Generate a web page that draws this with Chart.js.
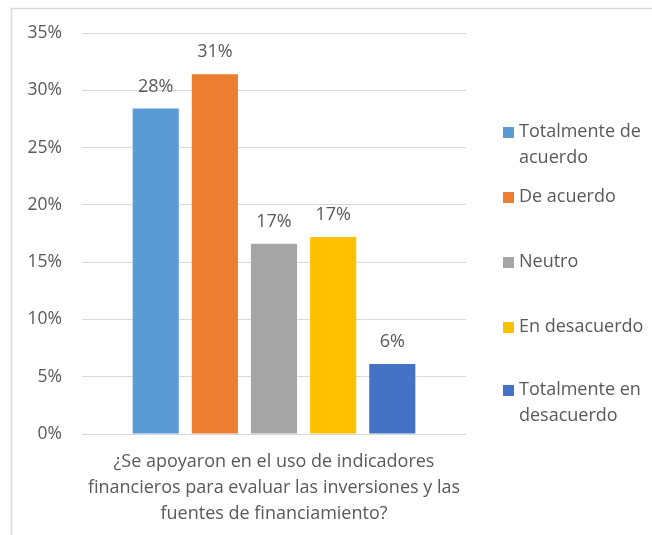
<!DOCTYPE html>
<html>
<head>
<meta charset="utf-8">
<script src="https://cdn.jsdelivr.net/npm/chart.js@4.4.1/dist/chart.umd.min.js"></script>
<style>
  html, body { margin: 0; padding: 0; background: #fff; }
  #wrap { width: 652px; height: 535px; position: relative; }
</style>
</head>
<body>
<div id="wrap"><canvas id="myChart"></canvas></div>
<script>
// data
const question = ['¿Se apoyaron en el uso de indicadores', 'financieros para evaluar las inversiones y las', 'fuentes de financiamiento?'];
const answers = ['Totalmente de acuerdo', 'De acuerdo', 'Neutro', 'En desacuerdo', 'Totalmente en desacuerdo'];
const shares = [0.284, 0.314, 0.166, 0.172, 0.061];
const shareLabels = ['28%', '31%', '17%', '17%', '6%'];
const yTicks = ['0%', '5%', '10%', '15%', '20%', '25%', '30%', '35%'];

const colors = ['#5B9BD5', '#ED7D31', '#A5A5A5', '#FFC000', '#4472C4'];
const font = "'Open Sans', sans-serif";
const textColor = '#595959';

// legend rows (lines per entry, y of first line)
const legendRows = [
  { lines: ['Totalmente de', 'acuerdo'], y: 132 },
  { lines: ['De acuerdo'], y: 197 },
  { lines: ['Neutro'], y: 262 },
  { lines: ['En desacuerdo'], y: 327 },
  { lines: ['Totalmente en', 'desacuerdo'], y: 390 }
];

const datasets = answers.map(function(name, i) {
  return {
    label: name,
    data: [shares[i]],
    backgroundColor: colors[i],
    borderWidth: 0,
    categoryPercentage: 0.77,
    barPercentage: 0.78
  };
});

// frame, bar labels and legend
const extras = {
  id: 'extras',
  beforeDraw(chart) {
    const ctx = chart.ctx;
    ctx.save();
    ctx.strokeStyle = '#d9d9d9';
    ctx.lineWidth = 1.5;
    ctx.beginPath();
    ctx.moveTo(11.5, 535);
    ctx.lineTo(11.5, 8.5);
    ctx.lineTo(652, 8.5);
    ctx.stroke();
    ctx.restore();
  },
  afterDatasetsDraw(chart) {
    const ctx = chart.ctx;
    ctx.save();
    ctx.font = '18px ' + font;
    ctx.fillStyle = textColor;
    ctx.textAlign = 'center';
    ctx.textBaseline = 'middle';
    chart.data.datasets.forEach(function(ds, i) {
      const bar = chart.getDatasetMeta(i).data[0];
      ctx.fillText(shareLabels[i], bar.x, bar.y - 22);
    });
    // legend
    ctx.textAlign = 'left';
    legendRows.forEach(function(row, i) {
      ctx.fillStyle = colors[i];
      ctx.fillRect(503, row.y - 5, 11, 11);
      ctx.fillStyle = textColor;
      row.lines.forEach(function(line, j) {
        ctx.fillText(line, 519, row.y + j * 26);
      });
    });
    ctx.restore();
  }
};

const config = {
  type: 'bar',
  data: { labels: [''], datasets: datasets },
  options: {
    responsive: true,
    maintainAspectRatio: false,
    animation: false,
    layout: { padding: { left: 26, right: 186, top: 33, bottom: 8 } },
    plugins: { legend: { display: false }, tooltip: { enabled: false } },
    scales: {
      x: {
        grid: { display: false, drawTicks: false },
        border: { display: false },
        ticks: { display: false },
        title: {
          display: true,
          text: question,
          color: textColor,
          font: { family: font, size: 18, lineHeight: 26 / 18 },
          padding: { top: 15, bottom: 0 }
        }
      },
      y: {
        min: 0,
        max: 0.35,
        border: { display: false },
        grid: { color: '#d9d9d9', lineWidth: 1, drawTicks: false },
        afterFit: function(scale) { scale.width = 56; },
        ticks: {
          stepSize: 0.05,
          padding: 20,
          color: textColor,
          font: { family: font, size: 17.5 },
          callback: function(v, idx) { return yTicks[idx]; }
        }
      }
    }
  },
  plugins: [extras]
};

const myChart = new Chart(document.getElementById('myChart'), config);
</script>
</body>
</html>
